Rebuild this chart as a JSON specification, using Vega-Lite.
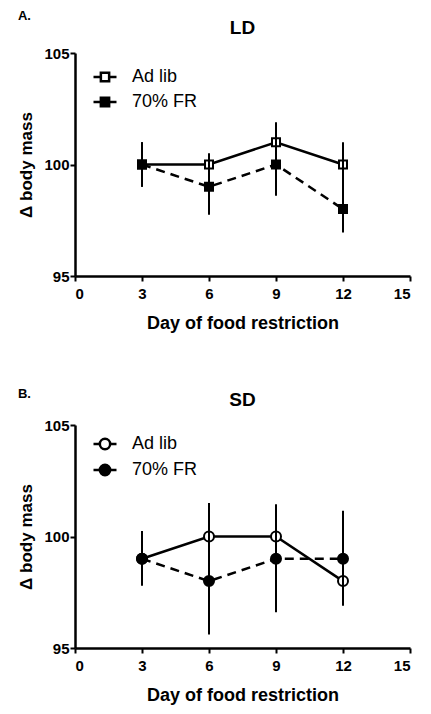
{
  "$schema": "https://vega.github.io/schema/vega-lite/v6.json",
  "background": "white",
  "padding": {"left": 17, "top": 10, "right": 10, "bottom": 5},
  "spacing": 56,
  "resolve": {"scale": {"fill": "independent"}, "legend": {"fill": "independent"}},
  "config": {
    "font": "Liberation Sans",
    "view": {"stroke": null},
    "axis": {
      "grid": false,
      "domainColor": "black",
      "domainWidth": 2.5,
      "tickColor": "black",
      "tickWidth": 2,
      "tickSize": 5,
      "labelFont": "Liberation Sans",
      "labelFontWeight": "bold",
      "labelFontSize": 15,
      "labelColor": "black",
      "labelPadding": 1,
      "titleFont": "Liberation Sans",
      "titleFontWeight": "bold",
      "titleFontSize": 17,
      "titleColor": "black"
    },
    "axisX": {"titleFontSize": 18, "labelPadding": 5},
    "title": {"font": "Liberation Sans", "fontWeight": "bold", "color": "black"},
    "legend": {
      "labelFont": "Liberation Sans",
      "labelFontSize": 18,
      "labelColor": "black",
      "labelFontWeight": "normal",
      "symbolStrokeColor": "black",
      "symbolStrokeWidth": 2.5,
      "symbolSize": 529,
      "labelOffset": 14,
      "rowPadding": 2,
      "padding": 0
    }
  },
  "datasets": {
    "ld": [
      {"day": 3, "group": "Ad lib", "mass": 100, "lo": 99, "hi": 101},
      {"day": 6, "group": "Ad lib", "mass": 100, "lo": 99.5, "hi": 100.5},
      {"day": 9, "group": "Ad lib", "mass": 101, "lo": 100.1, "hi": 101.9},
      {"day": 12, "group": "Ad lib", "mass": 100, "lo": 99, "hi": 101},
      {"day": 3, "group": "70% FR", "mass": 100, "lo": 99, "hi": 101},
      {"day": 6, "group": "70% FR", "mass": 99, "lo": 97.75, "hi": 100.25},
      {"day": 9, "group": "70% FR", "mass": 100, "lo": 98.6, "hi": 101.4},
      {"day": 12, "group": "70% FR", "mass": 98, "lo": 96.95, "hi": 99.05}
    ],
    "sd": [
      {"day": 3, "group": "Ad lib", "mass": 99, "lo": 97.8, "hi": 100.2},
      {"day": 6, "group": "Ad lib", "mass": 100, "lo": 98.5, "hi": 101.5},
      {"day": 9, "group": "Ad lib", "mass": 100, "lo": 98.55, "hi": 101.45},
      {"day": 12, "group": "Ad lib", "mass": 98, "lo": 96.9, "hi": 99.1},
      {"day": 3, "group": "70% FR", "mass": 99, "lo": 97.8, "hi": 100.25},
      {"day": 6, "group": "70% FR", "mass": 98, "lo": 95.6, "hi": 100.4},
      {"day": 9, "group": "70% FR", "mass": 99, "lo": 96.6, "hi": 101.4},
      {"day": 12, "group": "70% FR", "mass": 99, "lo": 97.9, "hi": 101.15}
    ]
  },
  "vconcat": [
    {
      "title": {"text": "A.", "anchor": "start", "fontSize": 13, "offset": -4},
      "vconcat": [
        {
          "width": 335,
          "height": 223,
          "title": {"text": "LD", "fontSize": 19, "anchor": "middle", "offset": 8},
          "data": {"name": "ld"},
          "encoding": {
            "x": {"field": "day", "type": "quantitative", "scale": {"domain": [0, 15], "nice": false}, "axis": {"values": [0, 3, 6, 9, 12, 15], "title": "Day of food restriction", "titlePadding": 13}},
            "y": {"field": "mass", "type": "quantitative", "scale": {"domain": [95, 105], "nice": false, "zero": false}, "axis": {"values": [95, 100, 105], "title": "Δ body mass", "titlePadding": 8}}
          },
          "layer": [
            {
              "transform": [{"filter": "datum.group === 'Ad lib'"}],
              "mark": {"type": "line", "color": "black", "strokeWidth": 2.5}
            },
            {
              "transform": [{"filter": "datum.group === '70% FR'"}],
              "mark": {"type": "line", "color": "black", "strokeWidth": 2.5, "strokeDash": [9, 6]}
            },
            {
              "mark": {"type": "point", "shape": "square", "size": 64, "filled": true, "stroke": "black", "strokeWidth": 2, "opacity": 1},
              "encoding": {
                "fill": {"field": "group", "type": "nominal", "scale": {"domain": ["Ad lib", "70% FR"], "range": ["white", "black"]},
                  "legend": {"title": null, "orient": "none", "legendX": 17, "legendY": 11, "symbolType": "M-1,0H-0.36M0.36,0H1M-0.36,-0.36H0.36V0.36H-0.36Z", "symbolOpacity": 1}}
              }
            },
            {
              "mark": {"type": "rule", "color": "black", "strokeWidth": 2},
              "encoding": {"y": {"field": "lo", "type": "quantitative"}, "y2": {"field": "hi"}}
            }
          ]
        }
      ]
    },
    {
      "title": {"text": "B.", "anchor": "start", "fontSize": 13, "offset": -10},
      "vconcat": [
        {
          "width": 335,
          "height": 223,
          "title": {"text": "SD", "fontSize": 19, "anchor": "middle", "offset": 8},
          "data": {"name": "sd"},
          "encoding": {
            "x": {"field": "day", "type": "quantitative", "scale": {"domain": [0, 15], "nice": false}, "axis": {"values": [0, 3, 6, 9, 12, 15], "title": "Day of food restriction", "titlePadding": 13}},
            "y": {"field": "mass", "type": "quantitative", "scale": {"domain": [95, 105], "nice": false, "zero": false}, "axis": {"values": [95, 100, 105], "title": "Δ body mass", "titlePadding": 8}}
          },
          "layer": [
            {
              "transform": [{"filter": "datum.group === 'Ad lib'"}],
              "mark": {"type": "line", "color": "black", "strokeWidth": 2.5}
            },
            {
              "transform": [{"filter": "datum.group === '70% FR'"}],
              "mark": {"type": "line", "color": "black", "strokeWidth": 2.5, "strokeDash": [9, 6]}
            },
            {
              "mark": {"type": "point", "shape": "circle", "size": 100, "filled": true, "stroke": "black", "strokeWidth": 2, "opacity": 1},
              "encoding": {
                "fill": {"field": "group", "type": "nominal", "scale": {"domain": ["Ad lib", "70% FR"], "range": ["white", "black"]},
                  "legend": {"title": null, "orient": "none", "legendX": 17, "legendY": 6, "symbolType": "M-1,0H-0.45M0.45,0H1M-0.45,0A0.45,0.45 0 1,0 0.45,0A0.45,0.45 0 1,0 -0.45,0Z", "symbolOpacity": 1}}
              }
            },
            {
              "mark": {"type": "rule", "color": "black", "strokeWidth": 2},
              "encoding": {"y": {"field": "lo", "type": "quantitative"}, "y2": {"field": "hi"}}
            }
          ]
        }
      ]
    }
  ]
}
